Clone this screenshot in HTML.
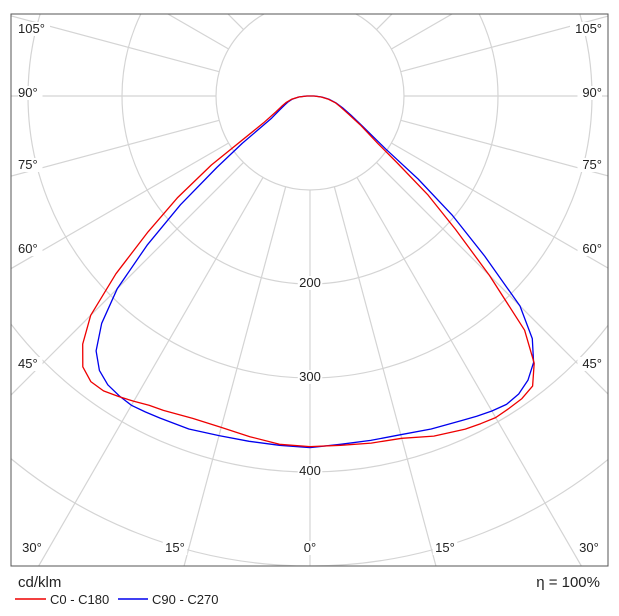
<!DOCTYPE html>
<html><head><meta charset="utf-8"><style>
html,body{margin:0;padding:0;background:#fff;overflow:hidden;width:619px;height:616px;}
svg{display:block;font-family:"Liberation Sans",sans-serif;}
</style></head><body>
<svg id="chart" width="619" height="616" viewBox="0 0 619 616" xmlns="http://www.w3.org/2000/svg">
<defs><clipPath id="clip"><rect x="11" y="14" width="597" height="552"/></clipPath></defs>
<rect x="0" y="0" width="619" height="616" fill="#fff"/>
<g id="grid" clip-path="url(#clip)"></g>
<g id="series" clip-path="url(#clip)"></g>
<g id="labels"></g>
<rect x="11" y="14" width="597" height="552" fill="none" stroke="#555" stroke-width="1"/>
<text x="18" y="587" font-size="15" fill="#222">cd/klm</text>
<text x="600" y="587" font-size="15" fill="#222" text-anchor="end">η = 100%</text>
<g>
<line x1="15" y1="599" x2="46" y2="599" stroke="#e00" stroke-width="1.5"/>
<text x="50" y="604" font-size="13" fill="#222">C0 - C180</text>
</g>
<g>
<line x1="118" y1="599" x2="148" y2="599" stroke="#00e" stroke-width="1.5"/>
<text x="152" y="604" font-size="13" fill="#222">C90 - C270</text>
</g>
</svg>
<script>
const gammas = [0,5,10,15,20,25,27.5,30,32.5,35,37.5,40,42.5,45,47.5,50,52.5,55,60,65,70,75,80,85,90];
const c0   = [373,373,375,377,385,391,393,395,394,393,389,371,338,270,210,164,117,88,62,45,35,28,20,12,4];
const c180 = [373,372,368,365,365,369,371,375,379,383,383,376,358,330,280,225,178,128,57,40,32,26,20,12,3];
const c90  = [374,372,372,373,377,381,384,387,389,387,381,370,350,316,252,198,145,98,65,48,37,29,21,13,5];
const c270 = [374,373,373,374,377,378,379,380,378,375,368,354,328,290,235,180,125,88,47,36,29,24,19,12,4];
const ringValues = [100,200,300,400,500];
const ringLabels = ['200','300','400'];
const angleTicks = [0,15,30,45,60,75,90,105,120,135,150,165];
const sideLabels = ['105°','90°','75°','60°','45°'];
const bottomLabels = ['30°','15°','0°','15°','30°'];

const NS = 'http://www.w3.org/2000/svg';
const cx = 310, cy = 96, k = 0.94;
const rad = v => v * k;
const px = (g, v, side) => cx + side * rad(v) * Math.sin(g * Math.PI / 180);
const py = (g, v) => cy + rad(v) * Math.cos(g * Math.PI / 180);
function mk(tag, attrs, parent){const e=document.createElementNS(NS,tag);for(const a in attrs)e.setAttribute(a,attrs[a]);parent.appendChild(e);return e;}
const grid = document.getElementById('grid');
ringValues.forEach(v=>{
  const c = mk('circle',{cx:cx,cy:cy,r:rad(v),fill:'none',stroke:'#d4d4d4','stroke-width':1.2},grid);
  
  
});
angleTicks.forEach(a=>{
  [1,-1].forEach(s=>{
    if(a===0 && s===-1) return;
    const l = mk('line',{x1:px(a,100,s),y1:py(a,100),x2:px(a,900,s),y2:py(a,900),stroke:'#d4d4d4','stroke-width':1.2},grid);
    
    
  });
});
const series = document.getElementById('series');
function curve(right,left,color,name){
  const pts=[];
  for(let i=0;i<gammas.length;i++) pts.push([px(gammas[i],right[i],1),py(gammas[i],right[i])]);
  for(let i=gammas.length-1;i>=0;i--) pts.push([px(gammas[i],left[i],-1),py(gammas[i],left[i])]);
  const p = mk('polyline',{points:pts.map(q=>q[0].toFixed(1)+','+q[1].toFixed(1)).join(' '),fill:'none',stroke:color,'stroke-width':1.3,'stroke-linejoin':'round'},series);
  
  
}
curve(c90,c270,'#0000ee','curve-c90-c270');
curve(c0,c180,'#ee0000','curve-c0-c180');
const labels = document.getElementById('labels');
function lbl(x,y,t,anchor,name){
  const g = mk('g',{},labels);
  
  
  const w = t.length*7.5+2;
  const bx = anchor==='middle'?x-w/2:(anchor==='end'?x-w:x);
  mk('rect',{x:bx,y:y-10,width:w,height:14,fill:'#fff'},g);
  const tx = mk('text',{x:x,y:y+1,'font-size':13,fill:'#222','text-anchor':anchor},g);
  tx.textContent=t;
}
ringLabels.forEach((t,i)=>{ lbl(cx, cy+rad(200+100*i)+2, t, 'middle', 'ring-label-'+t); });
const sideY = [32,96,168,252,367];
sideLabels.forEach((t,i)=>{
  lbl(18, sideY[i], t, 'start', 'angle-label-left-'+i);
  lbl(602, sideY[i], t, 'end', 'angle-label-right-'+i);
});
const botX = [32,175,310,445,589];
bottomLabels.forEach((t,i)=>{ lbl(botX[i], 551, t, 'middle', 'angle-label-bottom-'+i); });
</script>
</body></html>
